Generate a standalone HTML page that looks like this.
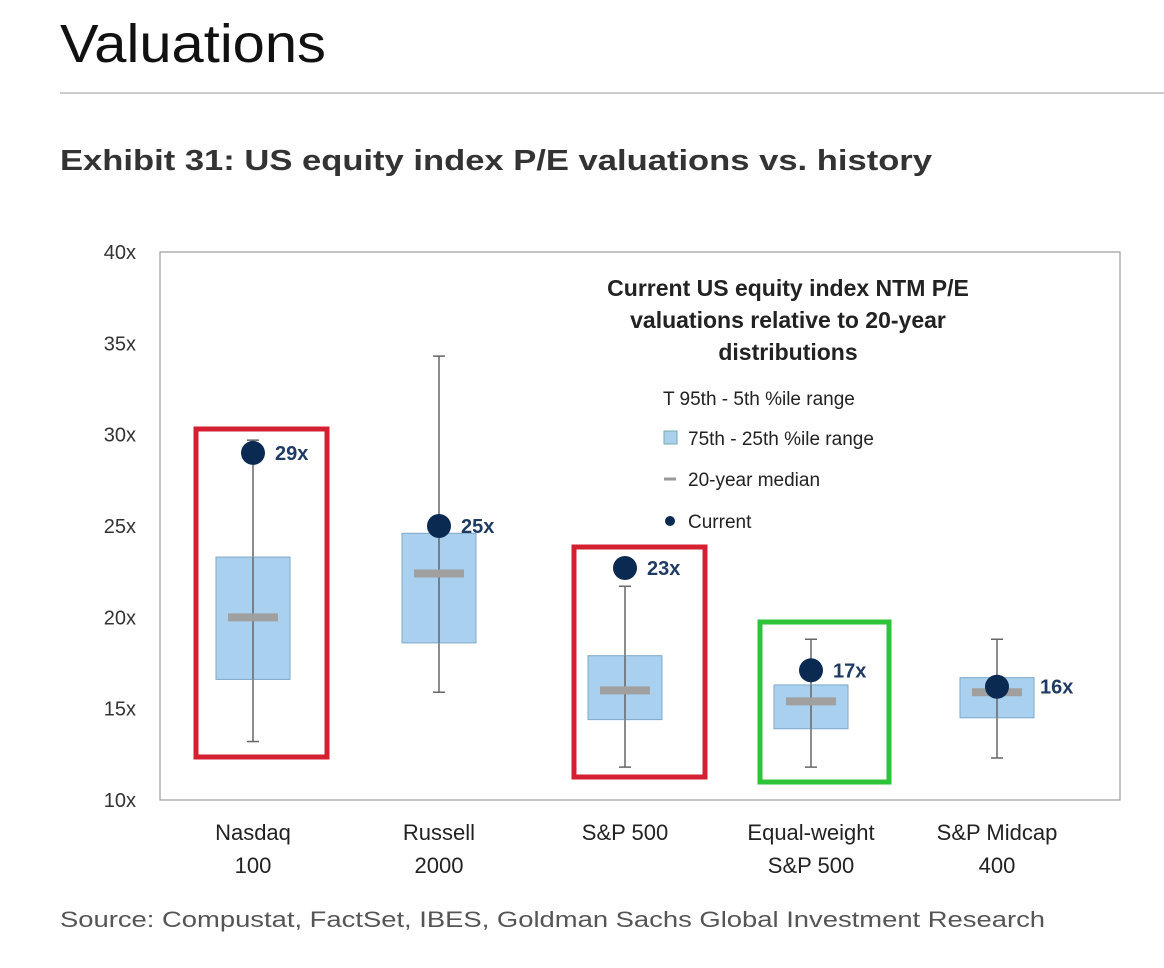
<!DOCTYPE html>
<html><head><meta charset="utf-8"><style>
body{margin:0;background:#fff;width:1164px;height:963px;overflow:hidden;font-family:"Liberation Sans",sans-serif}
</style></head><body>
<svg width="1164" height="963" xmlns="http://www.w3.org/2000/svg">
<text x="60" y="62" font-family="Liberation Sans Narrow, Liberation Sans, sans-serif" font-size="54" fill="#111" textLength="266" lengthAdjust="spacingAndGlyphs">Valuations</text>
<line x1="60" y1="93" x2="1164" y2="93" stroke="#bbb" stroke-width="1.5"/>
<text x="60" y="170" font-size="29" font-weight="bold" fill="#333" textLength="872" lengthAdjust="spacingAndGlyphs">Exhibit 31: US equity index P/E valuations vs. history</text>
<rect x="160" y="252" width="960" height="548" fill="#fff" stroke="#888" stroke-width="1"/>
<g id="yaxis"></g>
<g id="marks"></g>
<g font-size="20" fill="#222">
<text x="788" y="296" text-anchor="middle" font-weight="bold" font-size="23">Current US equity index NTM P/E</text>
<text x="788" y="328" text-anchor="middle" font-weight="bold" font-size="23">valuations relative to 20-year</text>
<text x="788" y="360" text-anchor="middle" font-weight="bold" font-size="23">distributions</text>
<text x="663" y="405" font-size="19">T  95th - 5th %ile range</text>
<rect x="664" y="431" width="13" height="13" fill="#a9d0ef" stroke="#7aa"/>
<text x="688" y="445" font-size="19">75th - 25th %ile range</text>
<line x1="664" y1="479" x2="676" y2="479" stroke="#999" stroke-width="3"/>
<text x="688" y="486" font-size="19">20-year median</text>
<circle cx="670" cy="521" r="5" fill="#0a2a52"/>
<text x="688" y="528" font-size="19">Current</text>
</g>
<rect x="196" y="429" width="131" height="328" fill="none" stroke="#d42030" stroke-width="5"/>
<rect x="574" y="547" width="131" height="230" fill="none" stroke="#d42030" stroke-width="5"/>
<rect x="760" y="622" width="129" height="160" fill="none" stroke="#2ec43a" stroke-width="5"/>
<text x="60" y="927" font-size="22" fill="#555" textLength="985" lengthAdjust="spacingAndGlyphs">Source: Compustat, FactSet, IBES, Goldman Sachs Global Investment Research</text>
</svg>
<script>
const categories=[["Nasdaq","100"],["Russell","2000"],["S&P 500",""],["Equal-weight","S&P 500"],["S&P Midcap","400"]];
const p95=[29.7,34.3,21.7,18.8,18.8];
const p5=[13.2,15.9,11.8,11.8,12.3];
const q3=[23.3,24.6,17.9,16.3,16.7];
const q1=[16.6,18.6,14.4,13.9,14.5];
const median=[20,22.4,16,15.4,15.9];
const current=[29,25,22.7,17.1,16.2];
const currentLabels=["29x","25x","23x","17x","16x"];
const yTicks=[10,15,20,25,30,35,40];
const NS="http://www.w3.org/2000/svg";
const y=v=>800-(v-10)*548/30;
const x=i=>253+i*186;
function mk(t,a,p){const e=document.createElementNS(NS,t);for(const k in a)e.setAttribute(k,a[k]);p.appendChild(e);return e;}
const ya=document.getElementById('yaxis');
yTicks.forEach(t=>{const e=mk('text',{x:136,y:y(t)+7,'text-anchor':'end','font-size':20,fill:'#333'},ya);


e.textContent=t+'x';});
const m=document.getElementById('marks');
categories.forEach((c,i)=>{
const cx=x(i);
const w=mk('line',{x1:cx,x2:cx,y1:y(p95[i]),y2:y(p5[i]),stroke:'#666','stroke-width':1.5},m);


[p95[i],p5[i]].forEach(v=>{const c2=mk('line',{x1:cx-6,x2:cx+6,y1:y(v),y2:y(v),stroke:'#666','stroke-width':1.5},m);

});
const b=mk('rect',{x:cx-37,y:y(q3[i]),width:74,height:y(q1[i])-y(q3[i]),fill:'#a9d0ef',stroke:'#7fa8c8','stroke-width':1},m);


const w2=mk('line',{x1:cx,x2:cx,y1:y(q3[i]),y2:y(q1[i]),stroke:'#666','stroke-width':1.5},m);


const md=mk('line',{x1:cx-25,x2:cx+25,y1:y(median[i]),y2:y(median[i]),stroke:'#a0a0a0','stroke-width':8},m);


const cu=mk('circle',{cx:cx,cy:y(current[i]),r:12,fill:'#0a2a52'},m);


const lb=mk('text',{x:cx+(i==4?43:22),y:y(current[i])+7,'font-size':20,'font-weight':'bold',fill:'#1f3b63'},m);


lb.textContent=currentLabels[i];
c.forEach((l,j)=>{if(!l)return;const t=mk('text',{x:cx,y:840+j*33,'text-anchor':'middle','font-size':22,fill:'#222'},m);


t.textContent=l;});
});
</script>
</body></html>
